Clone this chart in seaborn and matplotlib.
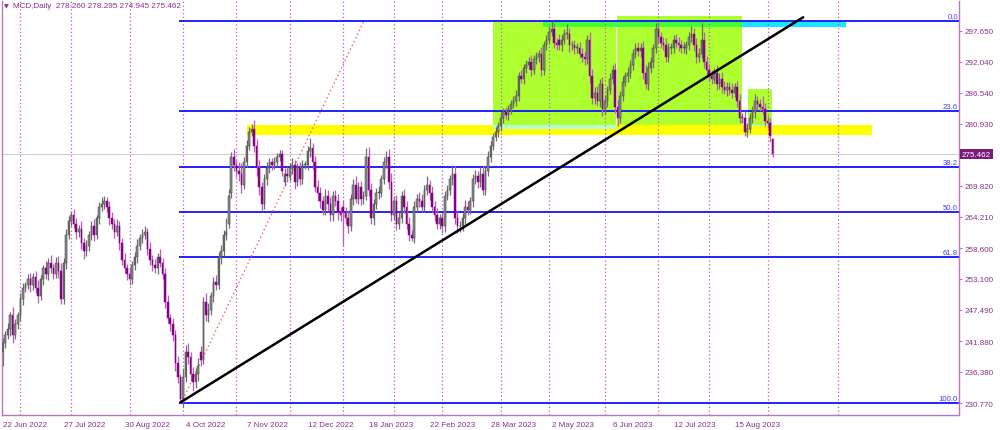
"""MCD daily chart with Fibonacci levels, trend line and zones (MT4 style)."""

import matplotlib
matplotlib.use("Agg")  # non-interactive backend
import matplotlib.pyplot as plt
import matplotlib.transforms as mtransforms
from matplotlib.patches import Rectangle
import numpy as np
import seaborn as sns

# ---- data ---------------------------------------------------------------
# daily bars, bar 0 = 22 Jun 2022, last bar = 6 Sep 2023
closes = [
    241.5, 243.0, 244.0, 246.5, 243.0, 245.0, 246.5, 249.5, 251.5, 252.0,
    253.0, 252.0, 253.5, 251.5, 250.0, 253.0, 255.0, 254.0, 256.0, 255.0,
    254.0, 256.0, 254.5, 249.5, 256.0, 261.0, 263.5, 264.5, 263.0, 261.5,
    262.0, 259.5, 258.0, 259.0, 261.0, 262.5, 261.0, 264.0, 266.0, 266.5,
    267.0, 266.0, 264.0, 263.0, 261.5, 262.5, 259.5, 256.5, 255.0, 254.0,
    253.0, 255.5, 257.0, 259.0, 260.5, 261.0, 261.5, 258.5, 256.5, 255.5,
    255.0, 257.0, 256.0, 254.0, 249.0, 246.0, 245.0, 243.0, 238.0, 235.5,
    231.5, 235.5, 240.0, 239.0, 236.0, 234.5, 236.0, 237.5, 238.5, 249.0,
    246.5, 247.5, 250.0, 252.5, 252.0, 257.0, 258.0, 261.0, 261.5, 268.0,
    275.0, 273.5, 272.5, 272.0, 270.0, 274.0, 277.0, 279.5, 280.0, 277.0,
    273.0, 269.5, 266.5, 271.0, 273.0, 274.0, 273.5, 274.0, 275.0, 275.5,
    272.5, 272.0, 271.5, 273.0, 273.5, 270.5, 273.0, 271.0, 273.5, 273.5,
    276.0, 276.5, 274.0, 269.5, 268.5, 267.0, 265.5, 268.0, 266.5, 264.5,
    268.0, 267.0, 265.0, 264.5, 265.0, 264.0, 262.5, 267.5, 270.0, 267.5,
    269.5, 267.5, 268.0, 275.0, 269.0, 264.0, 266.5, 268.5, 268.5, 271.0,
    274.0, 275.0, 270.5, 264.5, 267.0, 263.0, 264.0, 268.0, 266.0, 263.0,
    261.0, 260.5, 266.0, 267.5, 267.0, 266.0, 269.0, 270.0, 268.5, 266.0,
    264.5, 263.0, 264.0, 262.5, 268.0, 269.0, 271.0, 272.0, 264.0, 262.5,
    262.5, 264.0, 266.0, 265.5, 267.0, 271.0, 271.5, 270.5, 272.0, 269.0,
    272.5, 275.0, 277.0, 278.5, 279.5, 280.5, 282.0, 283.0, 282.5, 283.5,
    284.5, 285.0, 286.0, 289.5, 289.0, 291.0, 291.5, 292.0, 290.5, 292.5,
    293.0, 293.5, 290.5, 295.0, 296.0, 297.5, 298.0, 295.5, 295.0, 295.0,
    296.0, 297.0, 297.0, 295.0, 295.0, 294.5, 294.5, 293.5, 293.0, 292.5,
    296.0, 289.5, 285.5, 286.5, 285.0, 288.0, 283.5, 285.0, 287.0, 289.0,
    290.5, 284.0, 282.0, 286.0, 288.5, 289.5, 290.0, 291.5, 293.5, 294.5,
    294.0, 294.5, 290.0, 288.0, 291.0, 292.0, 294.5, 298.0, 296.5, 295.5,
    295.0, 293.0, 294.5, 294.5, 296.0, 295.5, 295.0, 294.5, 294.5, 295.0,
    296.5, 297.0, 295.0, 293.0, 293.5, 296.0, 292.0, 290.5, 289.5, 289.0,
    290.0, 288.0, 289.0, 287.5, 287.0, 287.5, 287.0, 286.5, 287.5, 285.0,
    282.0, 282.0, 279.5, 280.0, 282.0, 283.0, 285.0, 284.5, 284.0, 283.5,
    281.5, 281.0, 278.8, 275.462,
]
opens = [
    240.0, 241.5, 243.0, 244.0, 246.5, 243.0, 245.0, 246.5, 249.5, 251.5,
    252.0, 253.0, 252.0, 253.5, 251.5, 250.0, 253.0, 255.0, 254.0, 256.0,
    255.0, 254.0, 256.0, 254.5, 249.5, 256.0, 261.0, 263.5, 264.5, 263.0,
    261.5, 262.0, 259.5, 258.0, 259.0, 261.0, 262.5, 261.0, 264.0, 266.0,
    266.5, 267.0, 266.0, 264.0, 263.0, 261.5, 262.5, 259.5, 256.5, 255.0,
    254.0, 253.0, 255.5, 257.0, 259.0, 260.5, 261.0, 261.5, 258.5, 256.5,
    255.5, 255.0, 257.0, 256.0, 254.0, 249.0, 246.0, 245.0, 243.0, 238.0,
    235.5, 231.5, 235.5, 240.0, 239.0, 236.0, 234.5, 236.0, 240.0, 238.5,
    249.0, 246.5, 247.5, 250.0, 252.5, 252.0, 257.0, 258.0, 261.0, 263.0,
    268.5, 275.0, 273.5, 272.5, 272.0, 270.0, 274.0, 277.0, 279.5, 280.0,
    277.0, 273.0, 269.5, 266.5, 271.0, 273.0, 274.0, 273.5, 274.0, 275.0,
    275.5, 270.5, 272.0, 271.5, 273.0, 273.5, 270.5, 273.0, 271.0, 273.5,
    273.5, 276.0, 276.5, 274.0, 269.5, 268.5, 267.0, 265.5, 268.0, 266.5,
    264.5, 268.0, 267.0, 265.0, 266.0, 265.0, 264.0, 262.5, 267.5, 270.0,
    267.5, 269.5, 267.5, 268.0, 275.0, 269.0, 264.0, 266.5, 268.5, 268.5,
    271.0, 274.0, 275.0, 270.5, 264.5, 267.0, 263.0, 264.0, 268.0, 266.0,
    263.0, 261.0, 260.5, 266.0, 267.5, 267.0, 266.0, 269.0, 270.0, 268.5,
    266.0, 264.5, 263.0, 264.0, 262.5, 268.0, 269.0, 271.0, 272.0, 264.0,
    262.5, 262.5, 264.0, 266.0, 265.5, 267.0, 271.0, 271.5, 270.5, 272.0,
    269.0, 272.5, 275.0, 277.0, 278.5, 279.5, 280.5, 282.0, 283.0, 282.5,
    283.5, 284.5, 285.0, 286.0, 289.5, 289.0, 291.0, 291.5, 292.0, 290.5,
    292.5, 293.0, 293.5, 290.5, 295.0, 296.0, 297.5, 298.0, 295.5, 296.0,
    295.0, 296.0, 297.0, 297.0, 295.0, 295.0, 294.5, 294.5, 293.5, 293.0,
    292.5, 296.0, 289.5, 285.5, 286.5, 285.0, 288.0, 283.5, 285.0, 287.0,
    289.0, 290.5, 284.0, 282.0, 286.0, 288.5, 289.5, 290.0, 291.5, 293.5,
    294.5, 294.0, 294.5, 290.0, 288.0, 291.0, 292.0, 294.5, 298.0, 296.5,
    295.5, 295.0, 293.0, 294.5, 294.5, 296.0, 295.5, 295.0, 294.5, 294.5,
    295.0, 296.5, 297.0, 295.0, 293.0, 293.5, 296.0, 292.0, 290.5, 289.5,
    289.0, 290.0, 288.0, 289.0, 287.5, 287.0, 287.5, 287.0, 286.5, 287.5,
    285.0, 282.0, 282.0, 279.5, 280.0, 282.0, 283.0, 285.0, 284.5, 284.0,
    283.5, 281.5, 281.0, 278.26,
]
# wick lengths above / below the body (price units)
upper_wick = [
    1.0, 0.8, 1.2, 0.6, 1.5, 0.9, 0.7, 1.0, 0.8, 0.6,
    0.9, 1.1, 0.7, 1.0, 1.4, 0.8, 0.6, 1.2, 0.9, 1.3,
    0.7, 1.0, 1.2, 1.5, 0.8, 1.0, 0.9, 0.7, 1.2, 1.0,
    0.8, 1.4, 0.9, 1.1, 0.7, 1.0, 1.3, 0.6, 0.8, 1.2,
    0.9, 0.7, 1.1, 1.0, 0.8, 1.3, 0.9, 1.0, 1.2, 0.7,
    1.0, 0.8, 0.9, 1.2, 0.7, 1.1, 1.0, 0.8, 1.2, 0.9,
    1.1, 0.8, 1.4, 0.9, 1.0, 1.2, 0.7, 1.1, 0.9, 1.3,
    0.5, 1.5, 1.2, 1.6, 0.9, 1.3, 1.0, 1.4, 1.1, 0.8,
    1.5, 1.2, 0.8, 1.0, 1.3, 0.9, 1.1, 0.8, 2.5, 1.2,
    0.8, 1.4, 1.0, 1.5, 1.8, 0.9, 1.1, 0.8, 0.9, 1.6,
    1.2, 1.5, 1.0, 0.9, 1.1, 0.8, 0.7, 0.9, 0.6, 0.8,
    0.7, 1.0, 1.2, 0.9, 1.3, 1.0, 0.8, 1.1, 0.9, 0.7,
    1.0, 1.8, 0.9, 1.2, 1.4, 1.1, 0.9, 1.3, 1.0, 1.2,
    0.8, 1.1, 1.4, 0.9, 1.2, 1.0, 1.3, 0.8, 1.1, 1.5,
    1.0, 1.2, 0.9, 1.5, 1.8, 1.3, 1.0, 0.9, 1.2, 0.8,
    1.0, 1.0, 1.4, 1.6, 0.9, 1.2, 1.0, 0.8, 1.3, 1.1,
    1.2, 0.9, 1.0, 0.8, 1.1, 1.3, 1.0, 1.5, 0.9, 1.2,
    1.0, 1.3, 0.8, 1.1, 0.9, 1.0, 0.8, 1.5, 1.4, 1.2,
    1.0, 0.9, 1.2, 1.1, 0.8, 1.0, 1.2, 0.9, 1.1, 1.3,
    0.9, 1.0, 0.8, 0.7, 0.9, 0.8, 1.0, 0.7, 0.9, 0.8,
    0.7, 0.9, 1.0, 0.8, 1.1, 0.7, 0.9, 1.0, 1.2, 0.8,
    0.9, 0.7, 1.2, 0.8, 0.9, 1.0, 1.3, 1.1, 0.8, 1.0,
    0.9, 1.0, 1.8, 1.1, 0.8, 1.0, 0.9, 1.2, 1.0, 0.9,
    0.8, 1.5, 1.3, 1.0, 1.2, 0.9, 1.4, 1.1, 0.8, 1.0,
    0.9, 1.4, 1.2, 0.9, 1.0, 0.8, 1.1, 0.9, 0.8, 1.0,
    1.1, 0.9, 1.3, 1.5, 1.0, 0.9, 0.8, 1.0, 1.2, 0.9,
    1.0, 1.3, 0.9, 1.0, 0.8, 1.1, 1.0, 0.9, 1.2, 0.8,
    1.0, 1.5, 1.2, 1.3, 1.0, 3.0, 1.4, 1.1, 1.2, 1.0,
    0.9, 1.5, 1.0, 1.2, 1.1, 0.9, 1.0, 1.2, 0.8, 1.1,
    1.3, 0.9, 1.2, 1.0, 0.8, 1.1, 1.2, 1.0, 0.9, 1.9,
    1.2, 0.9, 1.0, 0.035,
]
lower_wick = [
    2.5, 0.9, 0.7, 1.1, 1.5, 0.8, 1.0, 0.9, 1.2, 0.7,
    0.8, 1.2, 0.9, 1.0, 1.3, 0.7, 1.0, 0.9, 1.1, 0.8,
    1.0, 0.8, 1.2, 1.0, 0.9, 1.1, 0.7, 1.0, 0.8, 1.2,
    0.9, 1.0, 1.3, 0.8, 1.0, 0.9, 1.1, 0.8, 1.0, 0.7,
    0.8, 1.0, 1.2, 0.9, 1.1, 0.8, 1.3, 1.0, 0.9, 1.2,
    1.0, 0.8, 0.9, 1.1, 0.7, 1.0, 0.8, 1.2, 0.9, 1.0,
    0.9, 1.1, 0.8, 1.0, 1.2, 0.9, 1.3, 1.0, 1.4, 1.1,
    0.73, 1.5, 1.0, 1.3, 1.2, 1.5, 1.0, 1.2, 1.0, 0.8,
    1.0, 1.2, 0.9, 1.1, 1.0, 0.8, 1.2, 0.9, 1.0, 0.8,
    0.9, 1.0, 1.2, 1.4, 1.5, 0.8, 0.9, 0.7, 0.8, 1.2,
    1.5, 1.3, 1.2, 0.8, 1.0, 0.9, 0.8, 0.7, 0.9, 0.8,
    1.0, 0.8, 1.1, 0.9, 1.0, 1.2, 0.8, 1.0, 0.9, 0.7,
    0.8, 1.0, 1.2, 0.9, 1.4, 1.2, 1.0, 0.9, 1.2, 1.0,
    1.1, 0.9, 1.3, 1.0, 6.0, 1.0, 1.2, 0.9, 1.1, 0.8,
    1.0, 1.2, 0.9, 0.8, 1.0, 1.0, 1.2, 0.9, 1.0, 0.8,
    0.9, 1.0, 1.2, 1.0, 0.9, 1.2, 1.0, 0.8, 1.1, 1.0,
    1.2, 0.7, 0.9, 1.0, 1.1, 0.9, 1.0, 0.8, 1.2, 1.0,
    1.1, 1.0, 0.9, 1.2, 1.0, 0.8, 0.9, 1.0, 1.1, 1.2,
    1.0, 0.9, 1.1, 1.0, 0.8, 1.0, 0.9, 1.1, 1.0, 0.9,
    0.8, 0.9, 1.0, 0.8, 0.7, 0.9, 0.8, 1.0, 0.7, 0.9,
    0.8, 0.7, 0.9, 1.0, 0.8, 0.9, 1.0, 0.8, 0.9, 0.7,
    0.8, 0.9, 1.0, 0.8, 0.9, 0.7, 0.8, 1.0, 0.9, 0.8,
    1.0, 0.8, 0.9, 1.1, 0.8, 1.0, 0.9, 0.8, 1.0, 1.1,
    0.9, 1.2, 1.0, 1.1, 0.9, 1.0, 1.2, 0.9, 1.0, 0.8,
    1.0, 1.2, 1.5, 1.0, 0.9, 0.8, 1.0, 0.9, 1.0, 0.8,
    0.9, 1.0, 1.1, 0.8, 1.0, 0.9, 1.1, 0.8, 1.0, 0.9,
    0.8, 1.0, 0.9, 1.0, 0.8, 0.9, 1.0, 0.8, 0.9, 1.0,
    0.9, 0.8, 1.0, 1.1, 0.9, 0.8, 1.0, 1.2, 0.9, 1.0,
    0.8, 1.0, 0.9, 1.1, 0.8, 1.0, 0.9, 1.0, 0.8, 1.1,
    0.9, 1.0, 0.7, 1.0, 0.8, 0.9, 1.0, 1.1, 0.8, 0.9,
    1.0, 0.9, 1.2, 0.517,
]

tick_bars = [0, 24, 48, 72, 96, 120, 144, 168, 192, 216, 240, 264, 288]
tick_labels = ["22 Jun 2022", "27 Jul 2022", "30 Aug 2022", "4 Oct 2022",
               "7 Nov 2022", "12 Dec 2022", "18 Jan 2023", "22 Feb 2023",
               "28 Mar 2023", "2 May 2023", "6 Jun 2023", "12 Jul 2023",
               "15 Aug 2023"]
month_starts = [7, 27, 50, 71, 92, 113, 134, 154, 173, 196, 215, 237, 258,
                278, 301, 328.5]
price_ticks = [297.650, 292.040, 286.540, 280.930, 269.820, 264.210,
               258.600, 253.100, 247.490, 241.880, 236.380, 230.770]
last_price = 275.462
header = "MCD,Daily  278.260 278.295 274.945 275.462"

# Fibonacci retracement anchors (bar, price) and levels
fib_low = (70.3, 230.77)
fib_high = (142.2, 299.39)
fib_levels = [0.0, 23.6, 38.2, 50.0, 61.8, 100.0]

# black trend line
trend_bars = [70, 315]
trend_prices = [230.9, 300.06]

# zones: (bar from, bar to, price low, price high)
yellow_zone = (96.0, 341.9, 278.9, 280.7)
cyan_zone = (212.8, 332.0, 298.4, 299.3)
green_boxes = [(193.0, 241.2, 279.99, 299.27),
               (241.9, 291.0, 280.66, 300.34),
               (293.1, 302.9, 280.62, 287.18)]

# ---- style ---------------------------------------------------------------
sns.set_theme(style="white")
plt.rcParams["font.family"] = ["Liberation Sans", "DejaVu Sans"]

PURPLE = "#8a2f8a"
AXIS = "#bb77bb"
X_MIN, X_MAX = -0.2, 376.3
Y_MIN, Y_MAX = 228.63, 302.98


def box(ax, zone, color, z):
    x0, x1, y0, y1 = zone
    ax.add_patch(Rectangle((x0, y0), x1 - x0, y1 - y0, facecolor=color,
                           edgecolor="none", zorder=z))


def overlap(a, b):
    x0, x1 = max(a[0], b[0]), min(a[1], b[1])
    y0, y1 = max(a[2], b[2]), min(a[3], b[3])
    if x1 <= x0 or y1 <= y0:
        return None
    return (x0, x1, y0, y1)


fig = plt.figure(figsize=(10, 4.31), dpi=100)
ax = fig.add_axes([0.002, 15 / 431, 0.957, 414 / 431])
ax.set_xlim(X_MIN, X_MAX)
ax.set_ylim(Y_MIN, Y_MAX)

# zones
box(ax, yellow_zone, "#ffff00", 0.2)
box(ax, cyan_zone, "#19e6ff", 0.2)
for g in green_boxes:
    box(ax, g, "#adff2f", 0.3)
    ov = overlap(g, yellow_zone)
    if ov:
        box(ax, ov, "#b4ffd6", 0.4)
    ov = overlap(g, cyan_zone)
    if ov:
        box(ax, ov, "#44ff33", 0.4)

# month separators and current price line
ax.vlines(month_starts, Y_MIN, Y_MAX, colors="#c455c4",
          linestyles=(0, (1, 2)), lw=0.9, zorder=0.6)
ax.axhline(last_price, color="#cfcfcf", lw=0.8, zorder=0.6)

# fibonacci levels
span = fib_high[1] - fib_low[1]
fib_prices = [fib_high[1] - lv / 100 * span for lv in fib_levels]
ax.hlines(fib_prices, fib_low[0] - 1, X_MAX, colors="#1010ff", lw=1.3,
          zorder=1)
for lv, p in zip(fib_levels, fib_prices):
    ax.annotate(f"{lv:.1f}", (X_MAX - 0.4, p), xytext=(0, 0.6),
                textcoords="offset points", ha="right", va="bottom",
                color="#4040ff", fontsize=5.6, zorder=5)
ax.plot([fib_low[0], fib_high[0]], [fib_low[1], fib_high[1]],
        color="#ff5a5a", ls=(0, (1, 2)), lw=1.0, zorder=1)

# candles
o = np.array(opens)
c = np.array(closes)
up = c >= o
top = np.maximum(o, c)
bot = np.minimum(o, c)
hi = top + np.array(upper_wick)
lo = bot - np.array(lower_wick)
x = np.arange(len(c))
ax.vlines(x, lo, hi, colors=np.where(up, "#6e6e6e", "#b85cb8"), lw=0.9,
          zorder=2)
ax.bar(x, np.maximum(top - bot, 0.15), bottom=bot, width=0.62,
       color=np.where(up, "#8c8c8c", "#880088"),
       edgecolor=np.where(up, "#3a3a3a", "#880088"), lw=0.35, zorder=3)

# trend line
sns.lineplot(x=trend_bars, y=trend_prices, color="black", lw=1.8, ax=ax,
             zorder=4)

# axes
for side in ["left", "right", "bottom"]:
    ax.spines[side].set_color(AXIS)
    ax.spines[side].set_linewidth(1.0)
ax.spines["top"].set_visible(False)
ax.yaxis.tick_right()
ax.set_yticks(price_ticks)
ax.set_yticklabels([f"{p:.3f}" for p in price_ticks])
ax.set_xticks(tick_bars)
ax.set_xticklabels(tick_labels)
for lbl in ax.get_xticklabels():
    lbl.set_ha("left")
ax.tick_params(axis="both", colors=AXIS, labelcolor=PURPLE, labelsize=5.8,
               length=2.5, width=0.8, direction="out")
ax.tick_params(axis="x", pad=1.5)
ax.tick_params(axis="y", pad=1.5)
ax.set_xlabel("")
ax.set_ylabel("")

# current price tag
trans = mtransforms.blended_transform_factory(ax.transAxes, ax.transData)
ax.text(1.003, last_price, f"{last_price:.3f}", transform=trans, ha="left",
        va="center", color="white", fontsize=5.8, zorder=6, clip_on=False,
        bbox=dict(facecolor="#7a1a7a", edgecolor="none", pad=1.2))

# header
fig.text(0.004, 1 - 7 / 431, "\u25BC", color=PURPLE, fontsize=4.5,
         va="center", family=["DejaVu Sans"])
fig.text(0.013, 1 - 7 / 431, header, color=PURPLE, fontsize=5.9,
         va="center")

fig.savefig("out.png", dpi=100)
plt.close(fig)
